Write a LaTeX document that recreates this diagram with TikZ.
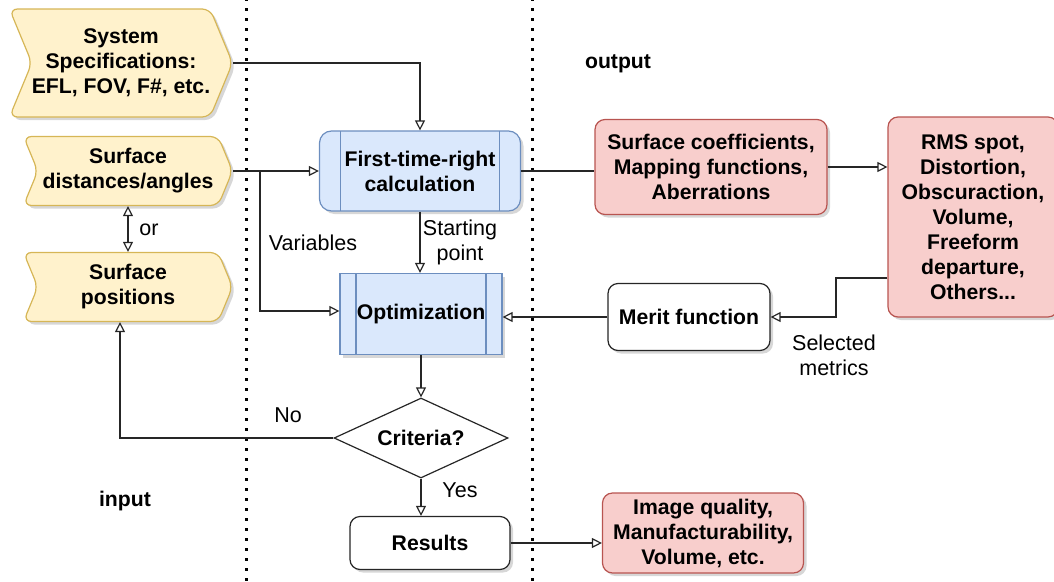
\documentclass[tikz,border=0pt]{standalone}
\usepackage{fontspec}
\setmainfont{Liberation Sans}
\usetikzlibrary{shapes.geometric,shapes.symbols,arrows.meta,shadows}

\definecolor{inFill}{HTML}{FFF2CC}
\definecolor{inLine}{HTML}{D6B656}
\definecolor{procFill}{HTML}{DAE8FC}
\definecolor{procLine}{HTML}{6C8EBF}
\definecolor{outFill}{HTML}{F8CECC}
\definecolor{outLine}{HTML}{B85450}

\begin{document}
\begin{tikzpicture}
    [x=1pt, y=-1pt,
    line width=1.2pt,
    font=\fontsize{21.5}{25}\selectfont,
    shade/.style={drop shadow={shadow xshift=3pt, shadow yshift=-3pt,
        fill=black!35, opacity=0.45}},
    bold/.style={font=\fontsize{21.2}{25}\selectfont\bfseries, align=center, inner sep=0pt},
    inbox/.style={bold, signal, signal from=west, signal to=east,
        signal pointer angle=135, draw=inLine, fill=inFill,
        rounded corners=8pt, shade},
    proc/.style={bold, draw=procLine, fill=procFill, shade,
        path picture={\draw[procLine, line width=1.2pt]
          ([xshift=#1]path picture bounding box.north west) --
          ([xshift=#1]path picture bounding box.south west)
          ([xshift=-#1]path picture bounding box.north east) --
          ([xshift=-#1]path picture bounding box.south east);}},
    outbox/.style={bold, draw=outLine, fill=outFill, rounded corners=10pt, shade},
    plainbox/.style={bold, draw=black!85, fill=white, rounded corners=10pt, shade},
    arr/.style={-{Triangle[open, length=10pt, width=10pt]}, black!85},
    both/.style={{Triangle[open, length=10pt, width=10pt]}-{Triangle[open, length=10pt, width=10pt]}, black!85},
    link/.style={black!85},
    sep/.style={line width=3pt, dash pattern=on 3pt off 7pt}]
    \useasboundingbox (0,0) rectangle (1054,581);

    % input / output separators
    \coordinate (sepA top) at (246,-2);
    \coordinate (sepA bot) at (246,583);
    \coordinate (sepB top) at (532,-2);
    \coordinate (sepB bot) at (532,583);
    \draw[sep] (sepA top) -- (sepA bot);
    \draw[sep] (sepB top) -- (sepB bot);

    % inputs
    \node[inbox, minimum width=223pt, minimum height=108pt] (spec) at (121,63)
      {System\\Specifications:\\EFL, FOV, F\#, etc.};
    \node[inbox, minimum width=209pt, minimum height=69pt] (dist) at (128,171)
      {Surface\\distances/angles};
    \node[inbox, minimum width=209pt, minimum height=69pt] (pos) at (128,287)
      {Surface\\positions};

    % processing
    \node[proc=21pt, rounded corners=12pt, minimum width=201pt, minimum height=80pt] (ftr) at (420,171)
      {First-time-right\\calculation};
    \node[proc=16pt, minimum width=162pt, minimum height=81pt] (opt) at (421,314)
      {Optimization};
    \node[bold, diamond, draw=black!85, fill=white, aspect=2.2,
      minimum width=174pt, minimum height=80pt] (crit) at (421,438) {Criteria?};
    \node[plainbox, minimum width=160pt, minimum height=53pt] (res) at (430,543) {Results};

    % outputs
    \node[outbox, minimum width=232pt, minimum height=95pt] (coef) at (711,167)
      {Surface coefficients,\\Mapping functions,\\Aberrations};
    \node[outbox, minimum width=170pt, minimum height=200pt] (metrics) at (973,217)
      {RMS spot,\\Distortion,\\Obscuraction,\\Volume,\\Freeform\\departure,\\Others...};
    \node[plainbox, minimum width=162pt, minimum height=67pt] (merit) at (689,317)
      {Merit function};
    \node[outbox, minimum width=201pt, minimum height=80pt] (quality) at (703,533)
      {Image quality,\\Manufacturability,\\Volume, etc.};

    % labels
    \node[bold] (outlbl) at (618,64) {output};
    \node[bold] (inlbl) at (125,501) {input};
    \node (orlbl) at (149,230) {or};
    \node (varlbl) at (313,243) {Variables};
    \node[align=center] (startlbl) at (460,242) {Starting\\point};
    \node[align=center] (sellbl) at (834,355) {Selected\\metrics};
    \node (nolbl) at (288,415) {No};
    \node (yeslbl) at (460,490) {Yes};

    % connectors
    \coordinate (split) at (260,171);
    \coordinate (bend) at (836,278);
    \draw[arr] (spec.east) -| (ftr.north);
    \draw[arr] (dist.east) -- (ftr.west);
    \draw[arr] (split) |- ([yshift=3pt]opt.west);
    \draw[both] (dist.south) -- (pos.north);
    \draw[arr] (ftr.south) -- (ftr.south |- opt.north);
    \draw[link] (ftr.east) -- (ftr.east -| coef.west);
    \draw[arr] (coef.east) -- (coef.east -| metrics.west);
    \draw[arr] (bend -| metrics.west) -- (bend) |- (merit.east);
    \draw[arr] (merit.west) -- ([yshift=-3pt]opt.east);
    \draw[arr] (opt.south) -- (crit.north);
    \draw[arr] (crit.west) -| ([xshift=-8pt]pos.south);
    \draw[arr] (crit.south) -- (crit.south |- res.north);
    \draw[arr] (res.east) -- (res.east -| quality.west);
\end{tikzpicture}
\end{document}
